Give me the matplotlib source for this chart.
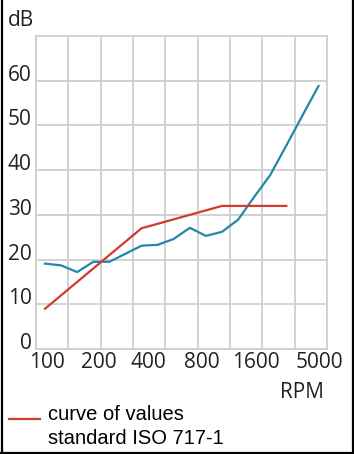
import numpy as np
import matplotlib.pyplot as plt
from matplotlib.lines import Line2D

# 1/3-octave bands (RPM)
bands = ["100", "125", "160", "200", "250", "315", "400", "500", "630",
         "800", "1000", "1250", "1600", "2000", "2500", "3150", "4000", "5000"]
measured = [19.1, 18.7, 17.2, 19.5, 19.5, 21.3, 23.1, 23.3, 24.6,
            27.1, 25.3, 26.2, 28.9, 34.0, 38.9, 45.5, 52.2, 58.8]
# reference curve ISO 717-1, bands 100 .. 3150
iso_ref = [9, 12, 15, 18, 21, 24, 27, 28, 29, 30, 31, 32, 32, 32, 32, 32]

tick_labels = ["100", "200", "400", "800", "1600", "5000"]
tick_pos = [0.12, 3.32, 6.43, 9.73, 13.11, 17.09]
y_ticks = [0, 10, 20, 30, 40, 50, 60]

blue = "#2188ab"
red = "#d23a2b"
grid_c = "#cfcfcf"
font = "Open Sans"

fig = plt.figure(figsize=(3.54, 4.54), dpi=100)
ax = fig.add_axes([36 / 354, 1 - 349 / 454, 291 / 354, 313 / 454])

x_all = np.arange(len(bands))
ax.plot(x_all, measured, color=blue, lw=1.6, solid_joinstyle="miter", zorder=3)
ax.plot(x_all[:len(iso_ref)], iso_ref, color=red, lw=1.6, zorder=3)

xlo, xhi = -0.56, 17.53
ax.set_xlim(xlo, xhi)
ax.set_ylim(0, 70)

ax.set_xticks(tick_pos)
ax.set_xticklabels(tick_labels, fontfamily=font, fontsize=15, color="#222222")
ax.set_xticks(np.linspace(xlo, xhi, 10), minor=True)
ax.set_yticks(y_ticks)
ax.set_yticklabels([str(v) for v in y_ticks], fontfamily=font, fontsize=15,
                   color="#222222")
plt.setp(ax.get_yticklabels(), va="baseline")

ax.tick_params(which="both", length=0)
ax.tick_params(axis="x", pad=2)
ax.tick_params(axis="y", pad=3)
ax.grid(axis="x", which="minor", color=grid_c, lw=1.3)
ax.grid(axis="x", which="major", visible=False)
ax.grid(axis="y", which="major", color=grid_c, lw=1.3)
for s in ax.spines.values():
    s.set_color(grid_c)
    s.set_linewidth(1.3)

fig.text(8 / 354, 1 - 20 / 454, "dB", fontfamily=font, fontsize=15,
         color="#222222", ha="left", va="center")
fig.text(280 / 354, 1 - 393 / 454, "RPM", fontfamily=font, fontsize=15,
         color="#222222", ha="left", va="center")

# legend
fig.add_artist(Line2D([9 / 354, 40 / 354], [1 - 419 / 454, 1 - 419 / 454],
                      color=red, lw=1.6))
fig.text(48 / 354, 1 - 415 / 454, "curve of values", fontfamily="Liberation Sans",
         fontsize=14.5, color="black", ha="left", va="center")
fig.text(48 / 354, 1 - 439 / 454, "standard ISO 717-1", fontfamily="Liberation Sans",
         fontsize=14.5, color="black", ha="left", va="center")

# frame lines round the picture
for xs, ys in [([1.5, 1.5], [0, 454]), ([352.5, 352.5], [0, 454]), ([0, 354], [452.5, 452.5])]:
    fig.add_artist(Line2D([v / 354 for v in xs], [1 - v / 454 for v in ys],
                          color="black", lw=1.6))

fig.savefig("out.png", dpi=100)
